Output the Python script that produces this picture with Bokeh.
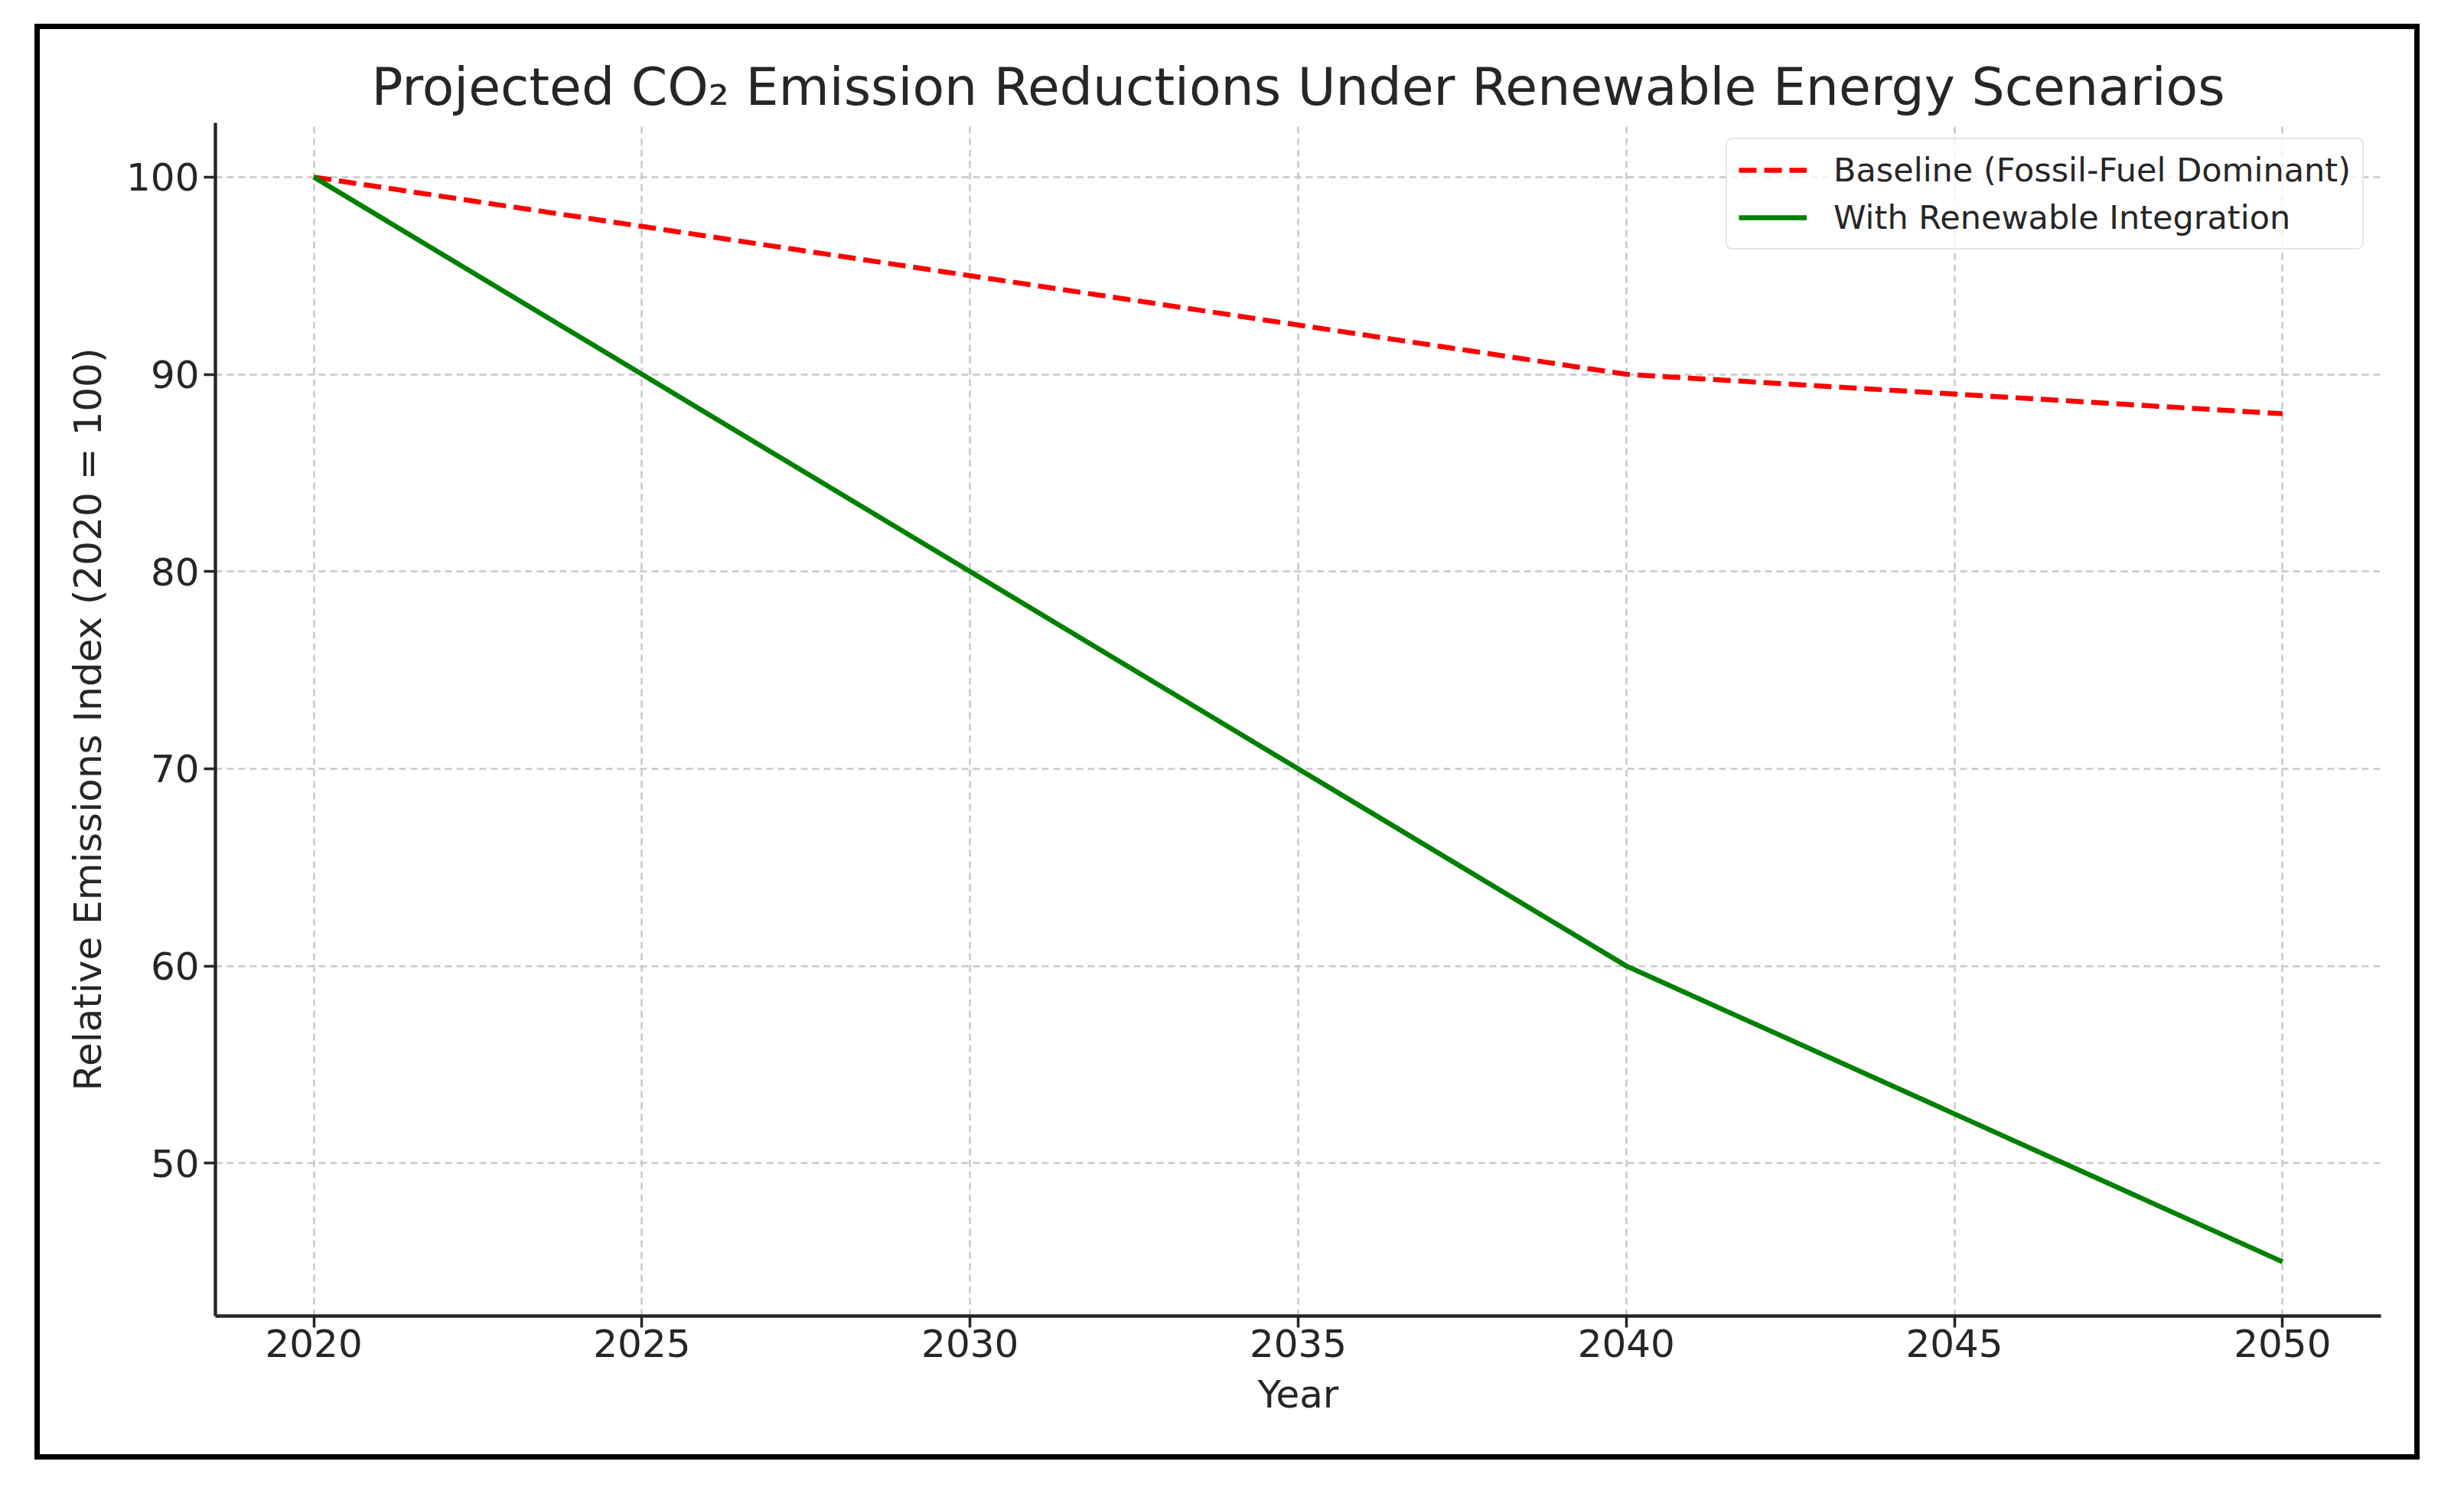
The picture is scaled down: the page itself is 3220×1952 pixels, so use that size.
from bokeh.plotting import figure
from bokeh.models import Range1d, FixedTicker, Legend, LegendItem
from bokeh.embed import file_html
from bokeh.resources import INLINE

# ---- data ----
years = [2020, 2025, 2030, 2035, 2040, 2045, 2050]
baseline = [100, 97.5, 95, 92.5, 90, 89, 88]
renewable = [100, 90, 80, 70, 60, 52.5, 45]
x_ticks = [2020, 2025, 2030, 2035, 2040, 2045, 2050]
y_ticks = [50, 60, 70, 80, 90, 100]

title_text = "Projected CO\u2082 Emission Reductions Under Renewable Energy Scenarios"
baseline_label = "Baseline (Fossil-Fuel Dominant)"
renewable_label = "With Renewable Integration"

FONT = "DejaVu Sans"
TXT = "#262626"

p = figure(
    width=3103, height=1862,
    x_range=Range1d(2018.5, 2051.5),
    y_range=Range1d(42.25, 102.75),
    output_backend="svg", toolbar_location=None,
    x_axis_label="Year",
    y_axis_label="Relative Emissions Index (2020 = 100)",
)
# black frame around the whole chart (outline does not change the layout box)
p.styles = {
    "position": "relative",
    "left": "52px",
    "top": "38px",
    "outline": "7px solid black",
}
p.min_border_left = 229
p.min_border_right = 44
p.min_border_top = 122
p.min_border_bottom = 181
p.outline_line_color = None
p.background_fill_color = "white"
p.border_fill_color = "white"

# title
p.title.text = title_text
p.title.align = "center"
p.title.text_font = FONT
p.title.text_font_size = "68px"
p.title.text_font_style = "normal"
p.title.text_color = TXT
p.title.standoff = 16

# axes
for ax in (p.xaxis[0], p.yaxis[0]):
    ax.axis_line_width = 4.4
    ax.axis_line_color = TXT
    ax.major_tick_line_width = 3.5
    ax.major_tick_line_color = TXT
    ax.major_tick_out = 15
    ax.major_tick_in = 0
    ax.minor_tick_line_color = None
    ax.major_label_text_font = FONT
    ax.major_label_text_font_size = "50px"
    ax.major_label_text_color = TXT
    ax.axis_label_text_font = FONT
    ax.axis_label_text_font_size = "50px"
    ax.axis_label_text_font_style = "normal"
    ax.axis_label_text_color = TXT

p.xaxis[0].ticker = FixedTicker(ticks=x_ticks)
p.yaxis[0].ticker = FixedTicker(ticks=y_ticks)
p.xaxis[0].major_label_standoff = 2
p.yaxis[0].major_label_standoff = 6
p.xaxis[0].axis_label_standoff = 17
p.yaxis[0].axis_label_standoff = 18

# grid
for g in (p.xgrid[0], p.ygrid[0]):
    g.grid_line_color = "#c8c8c8"
    g.grid_line_width = 2.5
    g.grid_line_dash = "9 6"

# lines
r1 = p.line(years, baseline, line_color="#ff0000", line_width=6.5, line_dash="23 10")
r2 = p.line(years, renewable, line_color="#008000", line_width=6.5)

legend = Legend(
    items=[LegendItem(label=baseline_label, renderers=[r1]),
           LegendItem(label=renewable_label, renderers=[r2])],
    location=(1974, 1393),
)
legend.label_text_font = FONT
legend.label_text_font_size = "43px"
legend.label_text_color = TXT
legend.glyph_width = 89
legend.glyph_height = 50
legend.label_height = 50
legend.label_standoff = 35
legend.padding = 15
legend.spacing = 12
legend.margin = 0
legend.border_line_color = "#cccccc"
legend.border_line_width = 2.5
legend.border_radius = 8
legend.background_fill_color = "white"
legend.background_fill_alpha = 0.8
p.add_layout(legend, "center")

open("out.html", "w").write(file_html(p, INLINE))
